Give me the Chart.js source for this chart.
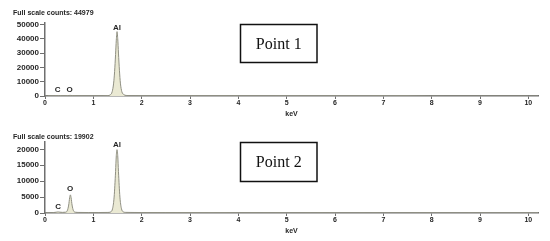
<!DOCTYPE html>
<html>
<head>
<meta charset="utf-8">
<script src="https://cdn.jsdelivr.net/npm/chart.js@4"></script>
<style>
  html, body { margin: 0; padding: 0; background: #fff; }
  .panel { position: absolute; left: 0; width: 550px; }
  #p1 { top: 0; height: 120px; }
  #p2 { top: 120px; height: 121px; }
</style>
</head>
<body>
<div class="panel" id="p1"><canvas id="eds1" width="550" height="120"></canvas></div>
<div class="panel" id="p2"><canvas id="eds2" width="550" height="121"></canvas></div>
<script>
// EDS spectra, Point 1 and Point 2

// ── Point 1 spectrum ──────────────────────────────────────
const energy1 = [0, 0.05, 0.1, 0.15, 0.2, 0.25, 0.28, 0.32, 0.4, 0.47, 0.52, 0.57, 0.65, 0.8, 1.0, 1.2, 1.3, 1.35, 1.39, 1.42, 1.44, 1.46, 1.475, 1.49, 1.505, 1.52, 1.54, 1.56, 1.59, 1.63, 1.68, 1.8, 2.0, 2.5, 3, 4, 5, 6, 7, 8, 9, 10, 10.2];
const counts1 = [0, 50, 120, 180, 250, 320, 350, 300, 250, 300, 420, 300, 220, 180, 170, 200, 300, 800, 3000, 9000, 17000, 29000, 39000, 44979, 40000, 30000, 18000, 9000, 3000, 1000, 400, 250, 200, 180, 160, 140, 120, 100, 90, 80, 70, 60, 50];
const peakNames1 = ['C', 'O', 'Al'];
const peakKeV1 = [0.26, 0.51, 1.49];
const peakLabelY1 = [4000, 4000, 47500];

// ── Point 2 spectrum ──────────────────────────────────────
const energy2 = [0, 0.1, 0.18, 0.23, 0.27, 0.31, 0.36, 0.42, 0.46, 0.49, 0.51, 0.525, 0.54, 0.56, 0.59, 0.63, 0.7, 0.9, 1.1, 1.3, 1.36, 1.40, 1.43, 1.46, 1.475, 1.49, 1.505, 1.52, 1.55, 1.58, 1.62, 1.67, 1.8, 2.0, 2.5, 3, 4, 5, 6, 7, 8, 9, 10, 10.2];
const counts2 = [0, 60, 150, 250, 320, 260, 200, 250, 700, 2500, 4800, 5700, 4800, 2500, 700, 250, 180, 150, 150, 180, 350, 1500, 5000, 13000, 18000, 19902, 18000, 13000, 5000, 1500, 350, 200, 170, 150, 130, 120, 100, 90, 80, 70, 60, 50, 40, 40];
const peakNames2 = ['C', 'O', 'Al'];
const peakKeV2 = [0.27, 0.52, 1.49];
const peakLabelY2 = [1800, 7600, 21400];

const xTicks = [0, 1, 2, 3, 4, 5, 6, 7, 8, 9, 10];

const AXIS = '#6f6f6f';
const TEXT = '#262626';
const FILL = '#eae9d3';
const EDGE = '#8f8f82';

Chart.defaults.font.family = "'Liberation Sans', Arial, sans-serif";
Chart.defaults.color = TEXT;

// header text, element labels and the "Point" box
const notesPlugin = {
  id: 'edsNotes',
  afterDatasetsDraw(chart, args, opts) {
    const { ctx, scales: { x, y } } = chart;
    ctx.save();
    ctx.fillStyle = TEXT;
    ctx.font = "bold 7px 'Liberation Sans', Arial, sans-serif";
    ctx.textBaseline = 'middle';
    ctx.textAlign = 'left';
    ctx.fillText(opts.header, 13, opts.headerY);

    ctx.font = "bold 8px 'Liberation Sans', Arial, sans-serif";
    ctx.textAlign = 'center';
    opts.names.forEach((n, i) => {
      ctx.fillText(n, x.getPixelForValue(opts.keV[i]), y.getPixelForValue(opts.at[i]));
    });

    const b = opts.box;
    ctx.strokeStyle = '#111';
    ctx.lineWidth = 1.5;
    ctx.strokeRect(b.x, b.y, b.w, b.h);
    ctx.fillStyle = '#111';
    ctx.font = "16px 'Liberation Serif', 'Times New Roman', serif";
    ctx.fillText(opts.boxText, b.x + b.w / 2, b.y + b.h / 2 + 1);
    ctx.restore();
  }
};

function buildSpectrum(canvasId, energy, counts, cfg) {
  const points = energy.map((e, i) => ({ x: e, y: counts[i] }));
  return new Chart(document.getElementById(canvasId), {
    type: 'line',
    data: {
      datasets: [{
        data: points,
        borderColor: EDGE,
        backgroundColor: FILL,
        borderWidth: 1,
        pointRadius: 0,
        fill: 'origin',
        cubicInterpolationMode: 'monotone',
      }]
    },
    options: {
      responsive: false,
      animation: false,
      devicePixelRatio: 1,
      layout: { padding: { left: 0, right: 12, top: cfg.top, bottom: 0 } },
      plugins: {
        legend: { display: false },
        tooltip: { enabled: false },
        edsNotes: cfg.notes,
      },
      scales: {
        x: {
          type: 'linear',
          min: 0,
          max: 10.2,
          afterBuildTicks: (s) => { s.ticks = xTicks.map(v => ({ value: v })); },
          afterFit: (s) => { s.height = cfg.xHeight; },
          grid: { drawOnChartArea: false, drawTicks: true, tickLength: 3, color: AXIS },
          border: { color: AXIS, width: 1.5 },
          ticks: { padding: 0, maxRotation: 0, autoSkip: false, font: { size: 7, weight: 'bold' }, color: TEXT,
                   callback: (v) => String(v) },
          title: { display: true, text: 'keV', font: { size: 7, weight: 'bold' }, color: TEXT, padding: { top: 0, bottom: cfg.titlePad } },
        },
        y: {
          min: 0,
          max: cfg.yMax,
          afterBuildTicks: (s) => { s.ticks = cfg.yTicks.map(v => ({ value: v })); },
          afterFit: (s) => { s.width = 45; },
          grid: { drawOnChartArea: false, drawTicks: true, tickLength: 5, color: AXIS },
          border: { color: AXIS, width: 1.5 },
          ticks: { padding: 1, font: { size: 8, weight: 'bold' }, color: TEXT,
                   callback: (v) => String(v) },
        }
      }
    },
    plugins: [notesPlugin]
  });
}

buildSpectrum('eds1', energy1, counts1, {
  top: 23, xHeight: 24, titlePad: 2, yMax: 51000,
  yTicks: [0, 10000, 20000, 30000, 40000, 50000],
  notes: {
    header: 'Full scale counts: 44979', headerY: 13,
    names: peakNames1, keV: peakKeV1, at: peakLabelY1,
    box: { x: 240.5, y: 24.5, w: 76.5, h: 38 }, boxText: 'Point 1'
  }
});

buildSpectrum('eds2', energy2, counts2, {
  top: 22, xHeight: 28, titlePad: 6, yMax: 22300,
  yTicks: [0, 5000, 10000, 15000, 20000],
  notes: {
    header: 'Full scale counts: 19902', headerY: 17,
    names: peakNames2, keV: peakKeV2, at: peakLabelY2,
    box: { x: 240.5, y: 22.5, w: 76.5, h: 39 }, boxText: 'Point 2'
  }
});
</script>
</body>
</html>
